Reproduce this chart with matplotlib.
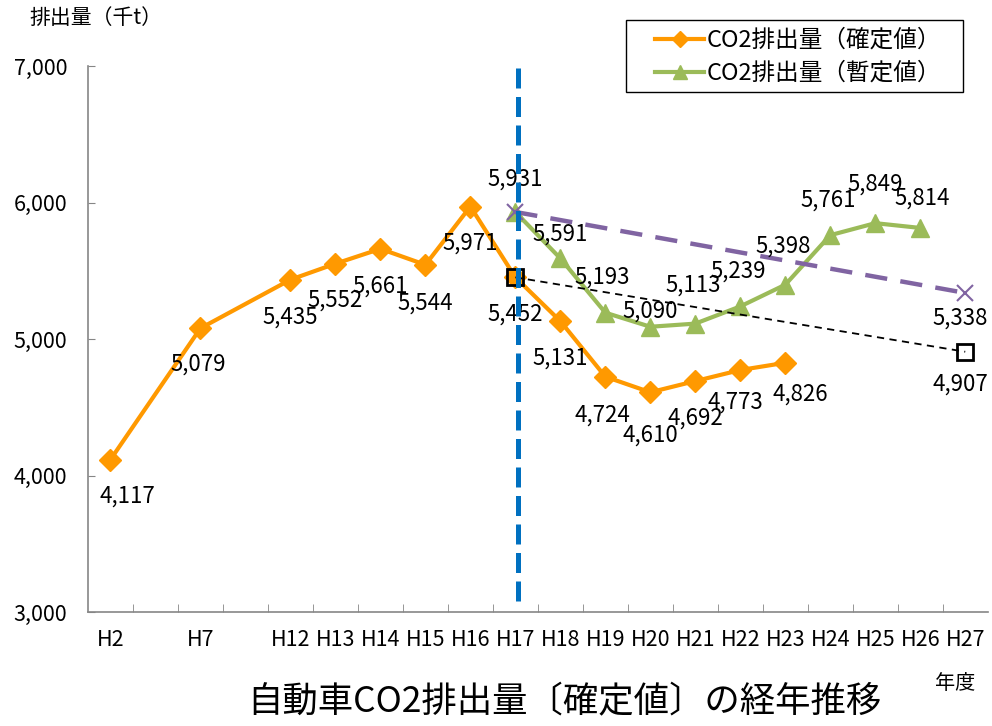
import matplotlib
matplotlib.use('Agg')
import matplotlib.pyplot as plt
from matplotlib.lines import Line2D
from matplotlib.patches import Rectangle

plt.rcParams['font.family'] = ['Noto Sans CJK JP', 'DejaVu Sans']

# category axis (blank slots between H2, H7, H12)
categories = ['H2', '', 'H7', '', 'H12', 'H13', 'H14', 'H15', 'H16', 'H17',
              'H18', 'H19', 'H20', 'H21', 'H22', 'H23', 'H24', 'H25', 'H26', 'H27']

# CO2排出量(確定値)
kakutei_years = ['H2', 'H7', 'H12', 'H13', 'H14', 'H15', 'H16', 'H17',
                 'H18', 'H19', 'H20', 'H21', 'H22', 'H23']
kakutei_vals = [4117, 5079, 5435, 5552, 5661, 5544, 5971, 5452,
                5131, 4724, 4610, 4692, 4773, 4826]

# CO2排出量(暫定値)
zantei_years = ['H17', 'H18', 'H19', 'H20', 'H21', 'H22', 'H23', 'H24', 'H25', 'H26']
zantei_vals = [5931, 5591, 5193, 5090, 5113, 5239, 5398, 5761, 5849, 5814]

# trend lines to H27
trend_years = ['H17', 'H27']
trend_zantei_vals = [5931, 5338]
trend_kakutei_vals = [5452, 4907]

# label offsets in pixels (dx, dy; dy positive = down)
kakutei_off = [(17, 37), (-2, 36), (0, 37), (0, 36), (0, 37), (0, 38), (0, 37), (0, 37),
               (0, 37), (-3, 38), (0, 43), (0, 37), (-5, 32), (15, 31)]
zantei_off = [(0, -33), (0, -24), (-3, -36), (0, -16), (-2, -39), (-2, -35),
              (-2, -39), (-2, -35), (0, -39), (2, -30)]

def xpos(years):
    return [categories.index(y) for y in years]

fig = plt.figure(figsize=(9.92, 7.26), dpi=100)
ax = fig.add_axes([0.0887, 0.157, 0.907, 0.752])

orange = '#FF9900'
green = '#9BBB59'
purple = '#8064A2'
blue = '#0070C0'

# dividing line at H17
ax.axvline(categories.index('H17') + 0.06, ymin=0.02, ymax=1.01, color=blue,
           lw=3.6, dashes=(4, 1.7), zorder=8, clip_on=False)

ax.plot(xpos(kakutei_years), kakutei_vals, color=orange, lw=3, marker='D',
        ms=11, zorder=3)
ax.plot(xpos(zantei_years), zantei_vals, color=green, lw=3, marker='^',
        ms=13, zorder=3)

ax.plot(xpos(trend_years), trend_zantei_vals, color=purple, lw=3.2,
        dashes=(5, 3), marker='x', ms=12, mew=1.5, zorder=4)
ax.plot(xpos(trend_years), trend_kakutei_vals, color='black', lw=1.3,
        dashes=(4, 3), marker='s', ms=12, mfc='none', mec='black', mew=2, zorder=5)

lab_kw = dict(textcoords='offset pixels', ha='center', va='center', fontsize=16, zorder=6)
for x, v, o in zip(xpos(kakutei_years), kakutei_vals, kakutei_off):
    ax.annotate(f'{v:,}', (x, v), xytext=(o[0], -o[1]), **lab_kw)
for x, v, o in zip(xpos(zantei_years), zantei_vals, zantei_off):
    ax.annotate(f'{v:,}', (x, v), xytext=(o[0], -o[1]), **lab_kw)
ax.annotate(f'{trend_zantei_vals[1]:,}', (categories.index('H27'), trend_zantei_vals[1]),
            xytext=(-5, -25), **lab_kw)
ax.annotate(f'{trend_kakutei_vals[1]:,}', (categories.index('H27'), trend_kakutei_vals[1]),
            xytext=(-5, -32), **lab_kw)

ax.set_xlim(-0.5, len(categories) - 0.5)
ax.set_ylim(3000, 7000)
yt = [3000, 4000, 5000, 6000, 7000]
ax.set_yticks(yt)
ax.set_yticklabels([f'{t:,}' for t in yt])
ax.set_xticks(range(len(categories)))
ax.set_xticklabels(categories)
ax.set_xticks([i + 0.5 for i in range(len(categories) - 1)], minor=True)
ax.tick_params(axis='x', which='major', length=0, pad=12, labelsize=15.5)
ax.tick_params(axis='x', which='minor', direction='in', length=6, color='#868686')
ax.tick_params(axis='y', direction='in', length=5, color='#868686', labelsize=15.5, pad=15)

for s in ['top', 'right']:
    ax.spines[s].set_visible(False)
for s in ['left', 'bottom']:
    ax.spines[s].set_color('#868686')
    ax.spines[s].set_linewidth(1.2)

# legend with its own frame
fig.patches.append(Rectangle((0.631, 0.873), 0.3397, 0.0992, transform=fig.transFigure,
                             fill=False, edgecolor='black', lw=1.0))
handles = [Line2D([], [], color=orange, lw=3, marker='D', ms=8),
           Line2D([], [], color=green, lw=3, marker='^', ms=10)]
fig.legend(handles, ['CO2排出量（確定値）', 'CO2排出量（暫定値）'],
           loc='upper left', bbox_to_anchor=(0.660, 0.960), fontsize=17,
           frameon=False, borderpad=0, borderaxespad=0,
           handlelength=2.1, handletextpad=0.1, labelspacing=0.42)

fig.text(0.03, 0.975, '排出量（千t）', fontsize=15, va='center', ha='left')
fig.text(0.963, 0.059, '年度', fontsize=14.5, va='center', ha='center')
fig.text(0.5685, 0.032, '自動車CO2排出量〔確定値〕の経年推移', fontsize=25.5,
         va='center', ha='center')

fig.savefig('out.png', dpi=100)
